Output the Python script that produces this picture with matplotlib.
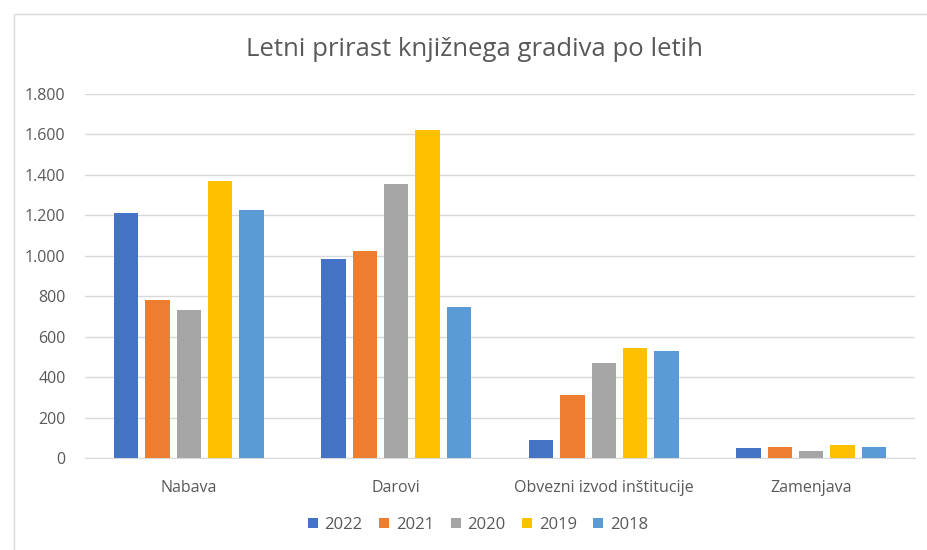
import matplotlib.pyplot as plt
import matplotlib.ticker as mticker
from matplotlib.patches import Rectangle
import numpy as np

categories = ['Nabava', 'Darovi', 'Obvezni izvod inštitucije', 'Zamenjava']
years = ['2022', '2021', '2020', '2019', '2018']
values = {
    '2022': [1211, 982, 90, 49],
    '2021': [779, 1024, 314, 56],
    '2020': [730, 1353, 470, 35],
    '2019': [1371, 1624, 542, 66],
    '2018': [1228, 748, 529, 52],
}
colors = ['#4472C4', '#ED7D31', '#A5A5A5', '#FFC000', '#5B9BD5']

plt.rcParams['font.family'] = ['Open Sans', 'DejaVu Sans']

fig = plt.figure(figsize=(9.27, 5.5), dpi=100)
fig.patches.append(Rectangle((14/927, -0.01), 1.0, 1 - 14/550 + 0.01, transform=fig.transFigure,
                             fill=False, edgecolor='#D9D9D9', linewidth=1.0))
ax = fig.add_axes([85/927, 1 - 458/550, 830/927, 364/550])

x = np.arange(len(categories))
slot, width = 0.151, 0.118
for j, (yr, c) in enumerate(zip(years, colors)):
    ax.bar(x + (j - 2) * slot, values[yr], width, color=c, label=yr, zorder=3)

ax.set_xlim(-0.5, len(categories) - 0.5)
ax.set_ylim(0, 1800)
ax.set_yticks(np.arange(0, 1801, 200))
ax.yaxis.set_major_formatter(mticker.FuncFormatter(lambda v, p: f'{int(v):,}'.replace(',', '.')))
ax.set_xticks(x, categories)
ax.grid(axis='y', color='#D9D9D9', linewidth=1, zorder=0)
for s in ['top', 'right', 'left']:
    ax.spines[s].set_visible(False)
ax.spines['bottom'].set_color('#D9D9D9')
ax.tick_params(axis='both', length=0, colors='#595959', labelsize=11.5)
ax.tick_params(axis='x', pad=16)
ax.tick_params(axis='y', pad=14)

fig.text(474/927, 1 - 50/550, 'Letni prirast knjižnega gradiva po letih', ha='center', va='center',
         fontsize=18.5, color='#595959')
fig.legend(loc='center', bbox_to_anchor=(478/927, 1 - 525/550), ncol=5, frameon=False,
           fontsize=12, labelcolor='#595959', handlelength=0.6, handleheight=0.6,
           handletextpad=0.4, columnspacing=1.0)

fig.savefig('out.png', dpi=100)
